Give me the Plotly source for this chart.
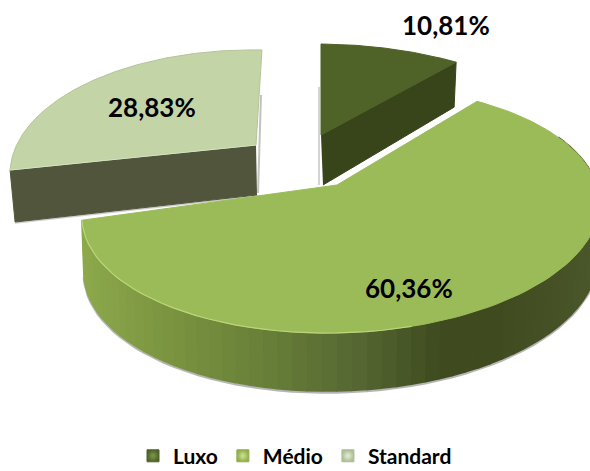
import numpy as np
import plotly.graph_objects as go

categories = ["Luxo", "Médio", "Standard"]
values = [10.81, 60.36, 28.83]
labels = ["10,81%", "60,36%", "28,83%"]
top_colors = ["#4f6228", "#9bbb59", "#c3d4a6"]
legend_edges = ["#4f6228", "#8fae4c", "#aebd94"]
legend_glows = ["#7f9a4a", "#cfe58e", "#e6eed6"]

# projection of each exploded slice: apex, scales, skew and perspective terms
VIEW = {
    "Luxo": dict(ax=321, ay=135, A=255, B=112.7, s=0, t=-2.1, k=0.2385, m=0),
    "Médio": dict(ax=337, ay=185, A=253.6, B=118.4, s=1.6, t=6, k=0.2, m=-0.015),
    "Standard": dict(ax=256, ay=145, A=237, B=117.7, s=7.4, t=-4.6, k=0.2385, m=0),
}
total = sum(values)
edges = np.cumsum([0] + values) / total * 2 * np.pi


def project(name, th):
    p = VIEW[name]
    u, v = np.sin(th), np.cos(th)
    d = 1 + p["k"] * v + p["m"] * u
    return p["ax"] + (p["A"] * u + p["s"] * v) / d, p["ay"] - (p["B"] * v + p["t"] * u) / d


def poly(fig, x, y, color, line=None, width=1):
    fig.add_trace(go.Scatter(x=list(x), y=list(y), mode="lines", fill="toself", fillcolor=color,
                             line=dict(color=line or color, width=width),
                             hoverinfo="skip", showlegend=False))


def stroke(fig, x, y, color, width):
    fig.add_trace(go.Scatter(x=list(x), y=list(y), mode="lines", line=dict(color=color, width=width),
                             hoverinfo="skip", showlegend=False))


def slice_top(name, i):
    th = np.linspace(edges[i], edges[i + 1], 120)
    x, y = project(name, th)
    return np.r_[VIEW[name]["ax"], x, VIEW[name]["ax"]], np.r_[VIEW[name]["ay"], y, VIEW[name]["ay"]]


fig = go.Figure()

# Standard (back left)
th = edges[2]
x0, y0 = project("Standard", th)
ap = VIEW["Standard"]
stroke(fig, [x0 + 5, ap["ax"] + 2], [y0 + 53, ap["ay"] + 51], "rgba(90,90,90,0.3)", 1.5)
stroke(fig, [ap["ax"] + 2, ap["ax"] + 5], [ap["ay"] + 48, ap["ay"] - 50], "rgba(120,120,120,0.45)", 2)
poly(fig, [ap["ax"], x0, x0 + 5, ap["ax"] + 1], [ap["ay"], y0, y0 + 52, ap["ay"] + 50], "#50553c")
tx, ty = slice_top("Standard", 2)
poly(fig, tx, ty, top_colors[2], line="#b5c49a")
stroke(fig, [x0, ap["ax"]], [y0, ap["ay"]], "#d8e3c3", 1)

# Luxo (back right)
th = edges[1]
x1, y1 = project("Luxo", th)
ap = VIEW["Luxo"]
stroke(fig, [ap["ax"] - 2, ap["ax"] - 2], [ap["ay"] - 48, ap["ay"] + 50], "rgba(110,110,110,0.4)", 1.5)
poly(fig, [ap["ax"], x1, x1 - 2, ap["ax"] + 2], [ap["ay"], y1, y1 + 45, ap["ay"] + 50], "#38441a")
tx, ty = slice_top("Luxo", 0)
poly(fig, tx, ty, top_colors[0])

# Médio (front): wall built as narrow strips shaded along the run of the rim
th_wall = np.linspace(edges[1] + 0.5, edges[2], 70)
wx, wy = project("Médio", th_wall)
wall_h = 52 + 6 * np.clip((1 - np.cos(th_wall)) / 2, 0, 1)
bx, by = wx + (337 - wx) * 0.008, wy + wall_h
stroke(fig, bx, by + 1.5, "rgba(70,70,70,0.4)", 2.5)
shade_x = [80, 170, 270, 360, 440, 500, 590]
shade_r = [0x8e, 0x7a, 0x67, 0x55, 0x3f, 0x40, 0x4a]
shade_g = [0xaa, 0x94, 0x7e, 0x66, 0x4b, 0x4c, 0x57]
shade_b = [0x4c, 0x40, 0x38, 0x32, 0x1f, 0x20, 0x2a]
for j in range(len(th_wall) - 1):
    xm = (wx[j] + wx[j + 1]) / 2
    c = "rgb(%d,%d,%d)" % (np.interp(xm, shade_x, shade_r), np.interp(xm, shade_x, shade_g),
                           np.interp(xm, shade_x, shade_b))
    poly(fig, [wx[j], wx[j + 1], bx[j + 1], bx[j]], [wy[j], wy[j + 1], by[j + 1], by[j]], c, width=1.6)
tx, ty = slice_top("Médio", 1)
poly(fig, tx, ty, top_colors[1])
sel = (wx < 420)
stroke(fig, wx[sel], wy[sel], "#bcd57a", 1.2)

# legend entries
for name, col, edge, glow in zip(categories, top_colors, legend_edges, legend_glows):
    fig.add_trace(go.Scatter(x=[None], y=[None], mode="markers", name=name,
                             marker=dict(symbol="square", size=12, color=edge,
                                         line=dict(color=edge, width=1),
                                         gradient=dict(type="radial", color=glow))))

LABEL_POS = {"Luxo": (446, 25), "Médio": (409, 288), "Standard": (152, 107)}
for name, lab in zip(categories, labels):
    fig.add_annotation(x=LABEL_POS[name][0], y=LABEL_POS[name][1], text="<b>%s</b>" % lab, showarrow=False,
                       font=dict(family="Lato", size=26, color="#000000"))

fig.update_layout(
    width=590, height=471, autosize=False, margin=dict(l=0, r=0, t=0, b=0, autoexpand=False),
    paper_bgcolor="#ffffff", plot_bgcolor="#ffffff",
    xaxis=dict(range=[0, 590], visible=False, fixedrange=True),
    yaxis=dict(range=[471, 0], visible=False, fixedrange=True),
    legend=dict(orientation="h", x=0.5, xanchor="center", y=-0.012, yanchor="bottom",
                font=dict(family="Lato", size=21, color="#000000", weight="bold"),
                itemwidth=30, traceorder="normal", bgcolor="rgba(0,0,0,0)"),
)
fig.write_html("out.html", config={"displayModeBar": False},
               post_script="document.body.style.margin='0';document.documentElement.style.overflow='hidden';")
